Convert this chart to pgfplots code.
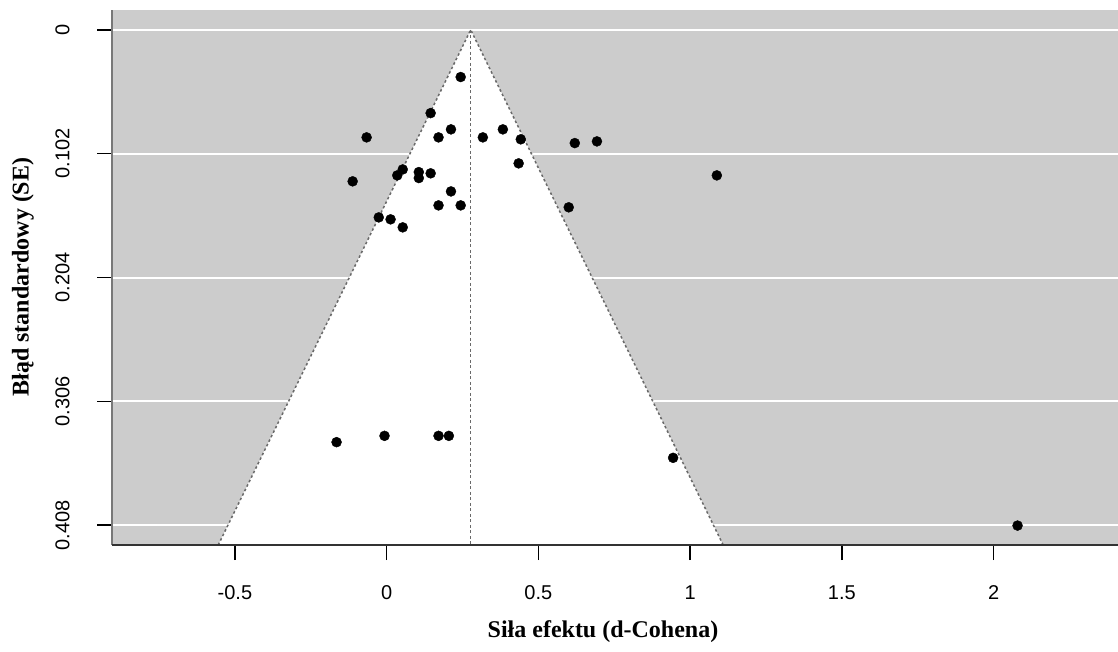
\documentclass[border=0pt]{standalone}
\usepackage{pgfplots}
\pgfplotsset{compat=1.18}
\usepackage{fontspec}
\setmainfont{Liberation Serif}
\newfontfamily\sansf{Liberation Sans}
\definecolor{panel}{RGB}{204,204,204}
\definecolor{edge}{RGB}{105,105,105}
\definecolor{frame}{RGB}{120,120,120}

\begin{document}
\begin{tikzpicture}[x=1pt,y=1pt]
\useasboundingbox (0,0) rectangle (1118,651);
\begin{axis}[
  at={(112pt,106pt)}, anchor=south west,
  width=1006pt, height=535pt, scale only axis,
  xmin=-0.905, xmax=2.41, ymin=-0.0163, ymax=0.4243,
  y dir=reverse,
  axis line style={draw=none},
  axis background/.style={fill=panel},
  xtick={-0.5,0,0.5,1,1.5,2},
  xticklabels={-0.5,0,0.5,1,1.5,2},
  ytick={0,0.102,0.204,0.306,0.408},
  yticklabels={0,0.102,0.204,0.306,0.408},
  xtick pos=bottom, ytick pos=left,
  tick align=outside,
  major tick length=15pt,
  major tick style={black, line width=1.5pt},
  ymajorgrids, major grid style={white, line width=2pt},
  tick label style={font=\sansf\fontsize{20}{24}\selectfont},
  xticklabel style={anchor=north, yshift=-22pt},
  yticklabel style={rotate=90, anchor=south, yshift=24pt},
  clip=false,
]
% funnel region
\addplot[fill=white, draw=none] coordinates {(-0.555,0.4243) (0.277,0) (1.109,0.4243) (-0.555,0.4243)};
% funnel edges
\addplot[edge, line width=1.5pt, dash pattern=on 2.5pt off 2.5pt] coordinates {(-0.555,0.4243) (0.277,0) (1.109,0.4243)};
% centre line
\addplot[edge, line width=1.5pt, dash pattern=on 3pt off 2.5pt] coordinates {(0.277,0) (0.277,0.4243)};
% frame (left and bottom)
\draw[frame, line width=2pt] (axis cs:-0.905,-0.0163) -- (axis cs:-0.905,0.4243);
\draw[black!80, line width=2pt] (axis cs:-0.905,0.4243) -- (axis cs:2.41,0.4243);
% studies
\addplot[only marks, mark=*, mark size=5pt, black] coordinates {
(0.244,0.0389) (0.145,0.0686) (-0.066,0.0886) (0.171,0.0886) (0.212,0.0820)
(0.317,0.0886) (0.383,0.0820) (0.442,0.0902) (0.620,0.0933) (0.693,0.0919)
(0.435,0.1100) (1.088,0.1199) (-0.112,0.1248) (0.035,0.1199) (0.053,0.1150)
(0.106,0.1172) (0.106,0.1221) (0.145,0.1182) (0.212,0.1331) (0.171,0.1446)
(0.244,0.1446) (0.600,0.1462) (-0.026,0.1545) (0.013,0.1561) (0.053,0.1627)
(-0.165,0.3396) (-0.007,0.3344) (0.171,0.3344) (0.205,0.3344) (0.944,0.3525)
(2.079,0.4083)
};
\end{axis}
\node[rotate=90, font=\bfseries\fontsize{24}{28}\selectfont] at (23,374) {Błąd standardowy (SE)};
\node[font=\bfseries\fontsize{24}{28}\selectfont] at (603,19) {Siła efektu (d-Cohena)};
\end{tikzpicture}
\end{document}
